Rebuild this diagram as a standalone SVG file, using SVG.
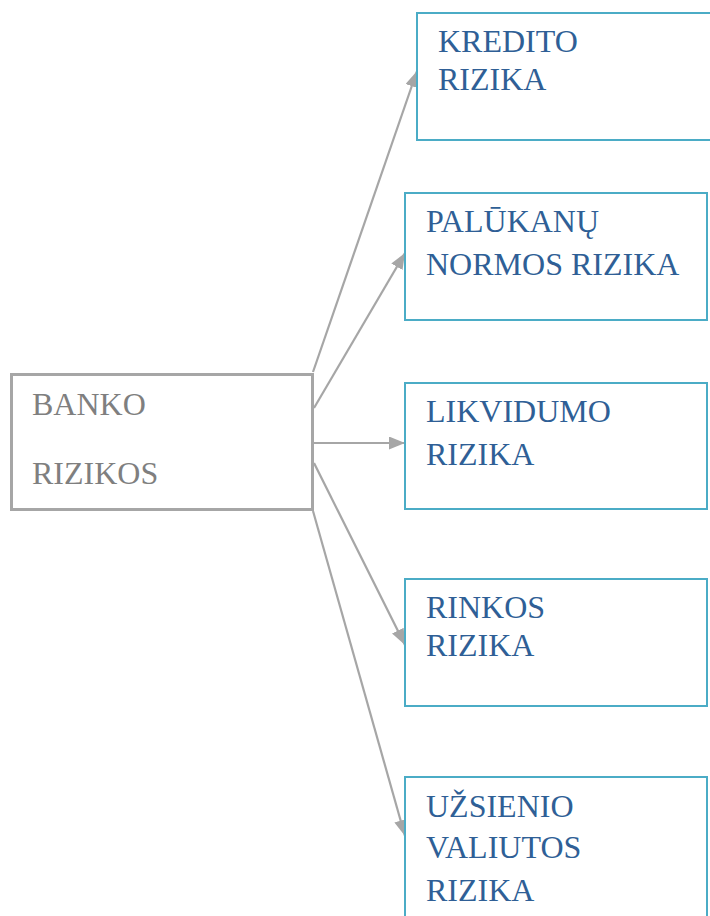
<svg xmlns="http://www.w3.org/2000/svg" width="710" height="916" viewBox="0 0 710 916">
<style>
.src{fill:#ffffff;stroke:#a6a6a6;stroke-width:3}
.dst{fill:#ffffff;stroke:#4bacc6;stroke-width:2}
.t{font-family:"Liberation Serif","Times New Roman",serif;font-size:32px}
.tg{fill:#7f7f7f}
.tb{fill:#2f5f96}
.c{stroke:#a6a6a6;stroke-width:2.2;fill:none;marker-end:url(#ah)}
</style>
<defs>
<marker id="ah" markerUnits="userSpaceOnUse" markerWidth="16" markerHeight="13" refX="16" refY="6.5" orient="auto">
<path d="M0,0 L16,6.5 L0,13 z" fill="#a6a6a6"/>
</marker>
</defs>
<g id="connectors">
<line class="c" x1="313" y1="372" x2="417" y2="71"/>
<line class="c" x1="314" y1="408" x2="405" y2="253"/>
<line class="c" x1="314" y1="443" x2="405" y2="443"/>
<line class="c" x1="314" y1="463" x2="405" y2="645"/>
<line class="c" x1="313" y1="511" x2="405" y2="836"/>
</g>
<g id="banko">
<rect class="src" x="11.5" y="374.5" width="301" height="135"/>
<text class="t tg" x="32" y="415">BANKO</text>
<text class="t tg" x="32" y="484">RIZIKOS</text>
</g>
<g id="kredito">
<rect class="dst" x="417" y="13" width="300" height="127"/>
<text class="t tb" x="438" y="52">KREDITO</text>
<text class="t tb" x="438" y="90">RIZIKA</text>
</g>
<g id="palukanu">
<rect class="dst" x="405" y="193" width="302" height="127"/>
<text class="t tb" x="426" y="232">PALŪKANŲ</text>
<text class="t tb" x="426" y="275">NORMOS RIZIKA</text>
</g>
<g id="likvidumo">
<rect class="dst" x="405" y="383" width="302" height="126"/>
<text class="t tb" x="426" y="422">LIKVIDUMO</text>
<text class="t tb" x="426" y="465">RIZIKA</text>
</g>
<g id="rinkos">
<rect class="dst" x="405" y="579" width="302" height="127"/>
<text class="t tb" x="426" y="618">RINKOS</text>
<text class="t tb" x="426" y="656">RIZIKA</text>
</g>
<g id="uzsienio">
<rect class="dst" x="405" y="777" width="302" height="160"/>
<text class="t tb" x="426" y="817">UŽSIENIO</text>
<text class="t tb" x="426" y="858">VALIUTOS</text>
<text class="t tb" x="426" y="901">RIZIKA</text>
</g>
</svg>
